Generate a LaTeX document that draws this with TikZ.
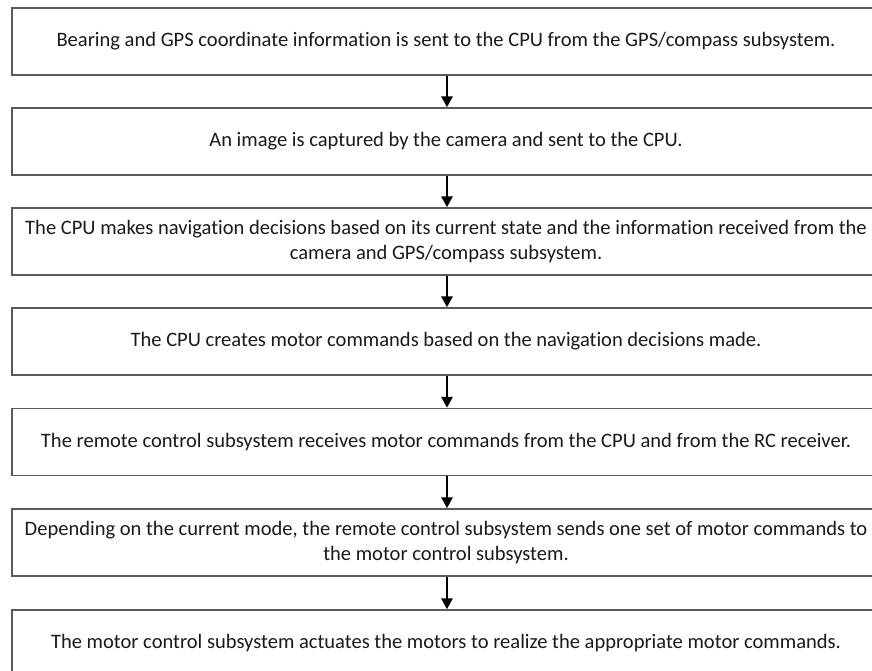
\documentclass[tikz,border=0pt]{standalone}
\usepackage{fontspec}
\setmainfont{Carlito}[Ligatures=NoCommon]
\usetikzlibrary{arrows.meta}
\definecolor{boxline}{HTML}{595959}
\definecolor{txt}{HTML}{1A1A1A}
\begin{document}
\begin{tikzpicture}[x=0.75pt,y=-0.75pt,
  stepbox/.style={draw=boxline,line width=1.3pt,fill=white,minimum width=651pt,
    minimum height=50.25pt,inner sep=0pt,align=center,text=txt,
    font=\fontsize{15.4pt}{18.75pt}\selectfont},
  flow/.style={draw=black,line width=0.9pt,-{Triangle[width=8.5pt,length=8pt]}}]
\clip (0,0) rectangle (872,671);
\fill[white] (0,0) rectangle (872,671);
\node[stepbox] (s1) at (446,41.5) {Bearing and GPS coordinate information is sent to the CPU from the GPS/compass subsystem.};
\node[stepbox] (s2) at (446,141.5) {An image is captured by the camera and sent to the CPU.};
\node[stepbox] (s3) at (446,241.5) {The CPU makes navigation decisions based on its current state and the information received from the\\camera and GPS/compass subsystem.};
\node[stepbox] (s4) at (446,341.5) {The CPU creates motor commands based on the navigation decisions made.};
\node[stepbox] (s5) at (446,442) {The remote control subsystem receives motor commands from the CPU and from the RC receiver.};
\node[stepbox] (s6) at (446,542.5) {Depending on the current mode, the remote control subsystem sends one set of motor commands to\\the motor control subsystem.};
\node[stepbox] (s7) at (446,643.5) {The motor control subsystem actuates the motors to realize the appropriate motor commands.};
\foreach \a/\b in {s1/s2,s2/s3,s3/s4,s4/s5,s5/s6,s6/s7}
  \draw[flow] ([xshift=0.75pt]\a.south) -- ([xshift=0.75pt]\b.north);
\end{tikzpicture}
\end{document}
